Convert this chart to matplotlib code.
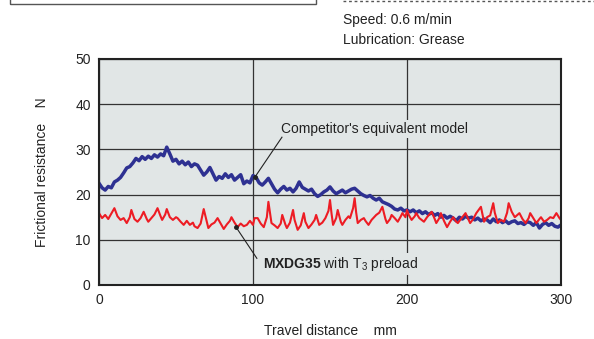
"""Frictional resistance vs travel distance: MXDG35 vs competitor."""

import matplotlib

matplotlib.use("Agg")
import matplotlib.pyplot as plt
from matplotlib.lines import Line2D
from matplotlib.patches import Rectangle

comp_x = list(range(0, 301, 2))
comp_y = [
    22.5, 21.5, 21.0, 21.8, 21.5, 22.8, 23.2, 23.8, 24.8, 25.9,
    26.2, 27.0, 28.0, 27.5, 28.4, 27.8, 28.5, 28.0, 28.8, 28.3,
    29.0, 28.6, 30.5, 29.0, 27.4, 27.8, 26.8, 27.4, 26.6, 27.2,
    26.2, 26.8, 26.5, 25.4, 24.3, 25.0, 26.0, 24.6, 23.2, 24.0,
    23.6, 24.6, 23.8, 24.4, 23.2, 23.8, 24.4, 22.4, 23.0, 22.6,
    24.2, 23.8, 22.6, 22.1, 22.8, 23.6, 22.4, 21.2, 20.4, 21.2,
    21.8, 21.0, 21.4, 20.6, 21.4, 22.8, 21.6, 21.2, 20.8, 21.2,
    20.2, 19.6, 20.0, 20.6, 21.0, 21.7, 20.8, 20.2, 20.6, 21.0,
    20.4, 20.8, 21.2, 21.4, 20.8, 20.2, 19.8, 19.5, 19.8, 19.2,
    18.8, 19.2, 18.4, 18.1, 17.8, 17.4, 16.8, 16.6, 17.0, 16.4,
    16.6, 16.2, 16.6, 16.0, 16.4, 15.8, 16.2, 15.6, 16.0, 15.4,
    15.8, 15.0, 15.4, 14.8, 15.2, 14.8, 14.2, 15.0, 14.6, 15.2,
    14.8, 15.0, 14.4, 14.8, 14.2, 14.6, 14.4, 13.8, 14.6, 14.0,
    14.4, 13.8, 14.2, 13.6, 14.0, 14.2, 13.6, 13.8, 13.4, 14.0,
    13.8, 13.2, 13.8, 12.6, 13.4, 13.8, 13.2, 13.6, 13.0, 12.8,
    13.3,
]

# MXDG35 with T3 preload
mxdg_x = [
    0, 2, 4, 6, 8, 10, 12, 14, 16, 18, 20, 21, 23, 25, 27, 29, 31, 32, 34, 36,
    38, 40, 41, 43, 44, 46, 48, 50, 51, 53, 55, 57, 59, 61, 62, 64, 66, 68, 69, 71,
    73, 75, 77, 79, 81, 83, 85, 86, 88, 90, 92, 94, 96, 98, 100, 101, 103, 105, 107, 109,
    110, 111, 112, 114, 116, 118, 119, 121, 122, 124, 126, 127, 129, 131, 133, 134, 136, 138, 140, 141,
    143, 145, 147, 149, 150, 151, 152, 154, 155, 157, 158, 160, 162, 163, 165, 166, 167, 168, 170, 172,
    173, 175, 177, 180, 182, 184, 186, 187, 189, 190, 192, 194, 196, 197, 199, 200, 201, 203, 205, 206,
    208, 211, 213, 216, 218, 219, 221, 222, 224, 226, 228, 230, 232, 233, 235, 238, 240, 241, 243, 245,
    248, 249, 250, 252, 254, 256, 257, 259, 261, 263, 265, 266, 268, 270, 272, 273, 275, 277, 279, 280,
    282, 284, 286, 287, 289, 291, 293, 295, 297, 299, 300,
]
mxdg_y = [
    15.9, 14.8, 15.5, 14.6, 15.8, 17.0, 15.2, 14.4, 14.8, 13.7, 15.0, 16.6, 14.6, 14.0, 14.8, 16.2, 14.6, 14.0, 14.8, 15.6,
    17.0, 15.2, 14.4, 15.6, 16.8, 15.0, 14.4, 15.0, 14.8, 14.0, 13.3, 14.2, 13.3, 13.8, 13.0, 12.6, 13.6, 16.8, 15.4, 12.6,
    13.4, 13.8, 14.8, 13.6, 12.4, 13.4, 14.2, 15.0, 13.8, 12.8, 13.6, 13.0, 13.3, 14.2, 13.3, 14.8, 14.8, 13.6, 12.8, 15.0,
    18.4, 16.0, 13.7, 13.2, 12.6, 13.6, 15.5, 13.4, 12.6, 13.8, 16.6, 14.4, 12.2, 13.2, 15.9, 14.0, 12.6, 13.4, 14.4, 15.5,
    13.3, 13.8, 14.8, 16.4, 18.8, 15.8, 13.3, 14.8, 16.6, 14.0, 13.3, 14.4, 15.2, 14.8, 17.0, 19.2, 16.0, 13.7, 14.4, 14.8,
    14.2, 13.3, 14.4, 15.5, 16.0, 17.3, 14.6, 13.7, 14.6, 15.5, 14.8, 14.0, 15.2, 15.9, 15.0, 16.6, 15.6, 14.4, 15.2, 15.9,
    14.8, 14.0, 15.0, 16.2, 14.6, 13.7, 14.8, 15.9, 14.2, 12.8, 14.0, 15.0, 14.0, 13.7, 14.6, 15.9, 14.4, 13.7, 14.6, 15.9,
    17.3, 15.6, 14.0, 15.0, 15.4, 18.1, 16.0, 13.7, 14.4, 14.0, 16.0, 18.1, 16.2, 15.0, 15.6, 15.9, 14.6, 13.7, 14.8, 15.9,
    14.8, 13.7, 14.6, 15.0, 14.0, 14.4, 15.0, 14.8, 15.9, 14.8, 14.4,
]

x_ticks = [0, 100, 200, 300]
y_ticks = [0, 10, 20, 30, 40, 50]

BG = "#e1e6e6"
BLUE = "#2e3192"
RED = "#ed1c24"
GRID = "#333333"
INK = "#222222"

plt.rcParams["font.family"] = ["Liberation Sans", "DejaVu Sans"]
plt.rcParams["font.size"] = 10
plt.rcParams["mathtext.fontset"] = "custom"
plt.rcParams["mathtext.rm"] = "Liberation Sans"
plt.rcParams["mathtext.bf"] = "Liberation Sans:bold"

fig = plt.figure(figsize=(5.94, 3.39), dpi=100)
ax = fig.add_axes([99 / 594, 1 - 285 / 339, 462 / 594, 226 / 339])
ax.set_facecolor(BG)

ax.plot(comp_x, comp_y, color=BLUE, linewidth=2.5, zorder=3)
ax.plot(mxdg_x, mxdg_y, color=RED, linewidth=1.5, zorder=4)

ax.set_xlim(0, 300)
ax.set_ylim(0, 50)
ax.set_xticks(x_ticks)
ax.set_yticks(y_ticks)
ax.tick_params(length=0, pad=6, labelsize=10, colors=INK)
ax.grid(True, color=GRID, linewidth=0.9, zorder=1)
for line in ax.yaxis.get_gridlines():
    if abs(line.get_ydata()[0] - 20) < 1e-6:
        line.set_color("#7a7a7a")
        line.set_linewidth(2.0)
for spine in ax.spines.values():
    spine.set_color(INK)
    spine.set_linewidth(1.5)
    spine.set_zorder(5)

ax.set_xlabel("Travel distance    mm", labelpad=12, color=INK)
ax.set_ylabel("Frictional resistance    N", labelpad=19, color=INK)

# annotations with leader lines
box = dict(facecolor=BG, edgecolor="none", pad=1.5)
ax.text(118, 34.5, "Competitor's equivalent model", ha="left", va="center",
        color=INK, bbox=box, zorder=6)
ax.plot([118.8, 101.3], [32.7, 23.9], color=INK, linewidth=0.8, zorder=6)
ax.plot([101.3], [23.9], "o", color=INK, markersize=2.5, zorder=6)

ax.text(106.5, 4.6, r"$\mathbf{MXDG35}$ with T$_{3}$ preload", ha="left",
        va="center", color=INK, bbox=box, zorder=6)
ax.plot([89, 102.5], [12.8, 5.9], color=INK, linewidth=0.8, zorder=6)
ax.plot([89], [12.8], "o", color=INK, markersize=2.5, zorder=6)

# conditions text and page remnants at the top
fig.text(343 / 594, 1 - 20 / 339, "Speed: 0.6 m/min", ha="left", va="center",
         color=INK)
fig.text(343 / 594, 1 - 40 / 339, "Lubrication: Grease", ha="left",
         va="center", color=INK)
fig.patches.append(Rectangle((10 / 594, 1 - 4 / 339), 306 / 594, 10 / 339,
                             transform=fig.transFigure, fill=False,
                             edgecolor="#555555", linewidth=1.0))
fig.lines.append(Line2D([343 / 594, 1.0], [1 - 1 / 339, 1 - 1 / 339],
                        transform=fig.transFigure, color="#555555",
                        linewidth=1.0, linestyle=(0, (2, 2))))

fig.savefig("out.png", dpi=100, facecolor="white")
